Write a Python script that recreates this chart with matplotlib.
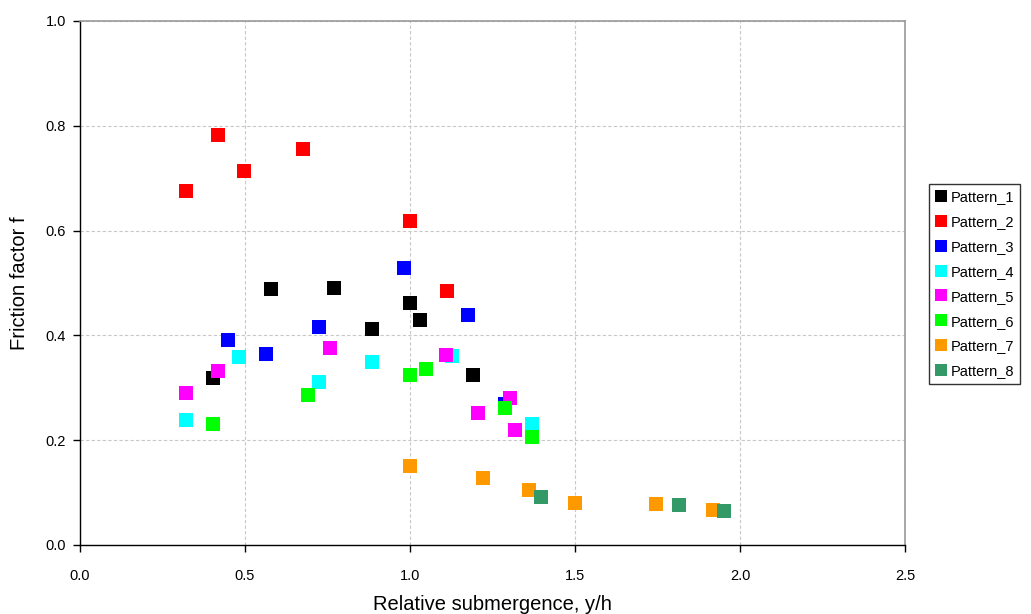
import matplotlib
matplotlib.use("Agg")
import matplotlib.pyplot as plt

plt.rcParams['font.family'] = ['Liberation Sans', 'DejaVu Sans']

# Datos: (y/h, f) por patrón
p1_x = [0.403, 0.579, 0.771, 0.885, 0.999, 1.031, 1.192]
p1_y = [0.319, 0.488, 0.491, 0.413, 0.461, 0.430, 0.324]

p2_x = [0.321, 0.418, 0.498, 0.676, 0.999, 1.112]
p2_y = [0.675, 0.783, 0.713, 0.755, 0.619, 0.484]

p3_x = [0.449, 0.564, 0.724, 0.981, 1.176, 1.288]
p3_y = [0.391, 0.365, 0.416, 0.529, 0.438, 0.270]

p4_x = [0.321, 0.482, 0.724, 0.885, 1.128, 1.370]
p4_y = [0.239, 0.358, 0.312, 0.349, 0.360, 0.231]

p5_x = [0.321, 0.418, 0.757, 1.110, 1.206, 1.303, 1.319]
p5_y = [0.290, 0.333, 0.375, 0.363, 0.251, 0.280, 0.220]

p6_x = [0.403, 0.691, 1.000, 1.048, 1.289, 1.370]
p6_y = [0.230, 0.287, 0.324, 0.336, 0.261, 0.206]

p7_x = [1.000, 1.221, 1.361, 1.500, 1.745, 1.919]
p7_y = [0.150, 0.127, 0.105, 0.081, 0.079, 0.066]

p8_x = [1.397, 1.816, 1.952]
p8_y = [0.091, 0.076, 0.065]

series = [
    ("Pattern_1", p1_x, p1_y, "#000000"),
    ("Pattern_2", p2_x, p2_y, "#FF0000"),
    ("Pattern_3", p3_x, p3_y, "#0000FF"),
    ("Pattern_4", p4_x, p4_y, "#00FFFF"),
    ("Pattern_5", p5_x, p5_y, "#FF00FF"),
    ("Pattern_6", p6_x, p6_y, "#00FF00"),
    ("Pattern_7", p7_x, p7_y, "#FF9900"),
    ("Pattern_8", p8_x, p8_y, "#339966"),
]

fig = plt.figure(figsize=(10.31, 6.14), dpi=100)
ax = fig.add_axes([80 / 1031, 1 - 545 / 614, (905 - 80) / 1031, (545 - 21) / 614])

for nombre, xs, ys, color in series:
    ax.plot(xs, ys, linestyle='none', marker='s', markersize=10.3,
            markerfacecolor=color, markeredgecolor=color, markeredgewidth=0,
            label=nombre, zorder=3)

ax.set_xlim(0, 2.5)
ax.set_ylim(0, 1.0)
ax.set_xticks([0.0, 0.5, 1.0, 1.5, 2.0, 2.5])
ax.set_yticks([0.0, 0.2, 0.4, 0.6, 0.8, 1.0])
ax.set_xticklabels([f"{v:.1f}" for v in ax.get_xticks()])
ax.set_yticklabels([f"{v:.1f}" for v in ax.get_yticks()])
ax.tick_params(direction='out', length=5, width=1, labelsize=10.5)
ax.tick_params(axis='x', pad=12)
ax.tick_params(axis='y', pad=5)
ax.grid(True, color='#c8c8c8', linestyle=(0, (3, 2)), linewidth=0.8, zorder=0)

for lado in ['left', 'bottom']:
    ax.spines[lado].set_color('black')
    ax.spines[lado].set_linewidth(1)
for lado in ['top', 'right']:
    ax.spines[lado].set_color('#999999')
    ax.spines[lado].set_linewidth(1.2)

ax.set_xlabel("Relative submergence, y/h", fontsize=14.5, labelpad=9)
ax.set_ylabel("Friction factor f", fontsize=14.5, labelpad=12)

leg = fig.legend(loc='upper left', bbox_to_anchor=(929 / 1031, 1 - 184 / 614),
                 fontsize=10.5, frameon=True, fancybox=False, handlelength=0.8,
                 handletextpad=0.3, labelspacing=0.75, borderpad=0.4,
                 borderaxespad=0, markerscale=0.85)
leg.get_frame().set_edgecolor('black')
leg.get_frame().set_linewidth(1)

plt.savefig("out.png", dpi=100)
plt.close()
